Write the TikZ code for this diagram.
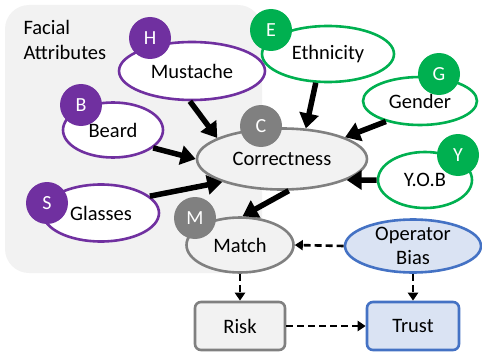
\documentclass[tikz,border=0pt]{standalone}
\usepackage{fontspec}
\setmainfont{Carlito}
\usetikzlibrary{shapes.geometric,arrows.meta}
\definecolor{cpurple}{HTML}{7030A0}
\definecolor{cgreen}{HTML}{00B050}
\definecolor{cgray}{HTML}{808080}
\definecolor{cbg}{HTML}{F2F2F2}
\definecolor{cblue}{HTML}{4472C4}
\definecolor{cbluefill}{HTML}{DAE3F3}
\tikzset{
  ell/.style={ellipse, draw, line width=2.6pt, inner sep=0pt, font=\fontsize{20.5}{24}\selectfont},
  purpleell/.style={ell, draw=cpurple, fill=white},
  greenell/.style={ell, draw=cgreen, fill=white},
  grayell/.style={ell, draw=cgray, fill=cbg},
  badge/.style={circle, inner sep=0pt, minimum size=42pt, text=white, font=\fontsize{20}{22}\selectfont},
  boxnode/.style={draw, rounded corners=6pt, line width=2.6pt, minimum width=90pt, minimum height=48pt, font=\fontsize{20.5}{24}\selectfont},
  bigarrow/.style={line width=5.5pt, -{Triangle[length=15pt,width=19pt]}},
  dasharrow/.style={line width=2.6pt, dash pattern=on 7pt off 4pt, -{Triangle[length=8pt,width=10pt]}}
}
\begin{document}
\begin{tikzpicture}[x=1pt,y=-1pt]
\useasboundingbox (0,0) rectangle (482,353);
\fill[cbg, rounded corners=24pt] (5,5) rectangle (262,273);
\node[anchor=west, align=left, font=\fontsize{20.5}{25}\selectfont] (fa) at (20,40) {Facial\\Attributes};

\node[purpleell, minimum width=146pt, minimum height=58pt] (must) at (192,71) {Mustache};
\node[badge, fill=cpurple] (h) at (150,38) {H};
\node[purpleell, minimum width=100pt, minimum height=55pt] (beard) at (113,130) {\raisebox{-6pt}{Beard}};
\node[badge, fill=cpurple] (b) at (81,105) {B};
\node[purpleell, minimum width=116pt, minimum height=57pt] (glass) at (101,213) {\raisebox{-5pt}{Glasses}};
\node[badge, fill=cpurple] (s) at (47,203) {S};

\node[greenell, minimum width=132pt, minimum height=56pt] (eth) at (328,54) {Ethnicity};
\node[badge, fill=cgreen] (e) at (271,30) {E};
\node[greenell, minimum width=114pt, minimum height=48pt] (gen) at (420,101) {Gender};
\node[badge, fill=cgreen] (g) at (439,74) {G};
\node[greenell, minimum width=94pt, minimum height=56pt] (yob) at (425,180) {Y.O.B};
\node[badge, fill=cgreen] (y) at (458,155) {Y};

\node[grayell, minimum width=170pt, minimum height=61pt] (corr) at (282,159) {Correctness};
\node[badge, fill=cgray] (c) at (261,126) {C};
\node[grayell, minimum width=107pt, minimum height=55pt] (match) at (240,245) {Match};
\node[badge, fill=cgray] (m) at (195,218) {M};

\node[ell, draw=cblue, fill=cbluefill, minimum width=136pt, minimum height=52pt, align=center, font=\fontsize{20.5}{24}\selectfont] (op) at (413,246) {Operator\\Bias};

\node[boxnode, draw=cgray, fill=cbg] (risk) at (240,326) {Risk};
\node[boxnode, draw=cblue, fill=cbluefill, minimum width=92pt] (trust) at (413,326) {Trust};

\draw[bigarrow] (must.-94) -- (corr.162);
\draw[bigarrow] (beard.-24) -- (corr.180);
\draw[bigarrow] (glass.19) -- (corr.201);
\draw[bigarrow] (eth.-113) -- (corr.52);
\draw[bigarrow] (gen.211) -- (corr.19);
\draw[bigarrow] (yob.180) -- (corr.-18);
\draw[bigarrow] (corr.-78) -- (match.85);

\draw[dasharrow] (op.west) -- (match.east);
\draw[dasharrow] (match.south) -- (risk.north);
\draw[dasharrow] (op.south) -- (trust.north);
\draw[dasharrow] (risk.east) -- (trust.west);
\end{tikzpicture}
\end{document}
